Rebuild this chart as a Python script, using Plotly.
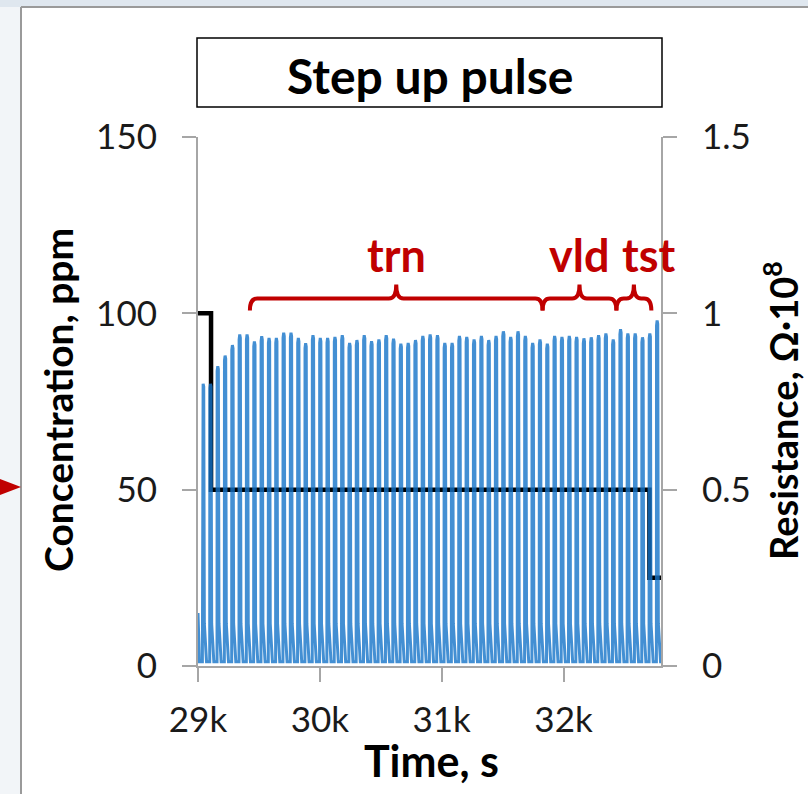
import plotly.graph_objects as go

# ---------------- data ----------------
time_ticks = [29000, 30000, 31000, 32000]
time_tick_text = ["29k", "30k", "31k", "32k"]

# concentration step profile (ppm) : change times and levels
conc_time = [29000, 29107, 32705, 32800]
conc_ppm = [100, 50, 25, 25]

# resistance pulses (Ohm*1e8): first pulse centre, spacing, peak heights
pulse_first = 29042
pulse_spacing = 60.1
pulse_peaks = [
    0.80, 0.80, 0.85, 0.88, 0.91, 0.94, 0.94, 0.92, 0.935, 0.93,
    0.93, 0.945, 0.945, 0.93, 0.915, 0.938, 0.930, 0.930, 0.933, 0.938,
    0.916, 0.924, 0.938, 0.921, 0.926, 0.938, 0.928, 0.914, 0.916, 0.924,
    0.936, 0.940, 0.938, 0.916, 0.916, 0.936, 0.933, 0.926, 0.936, 0.924,
    0.936, 0.949, 0.933, 0.949, 0.936, 0.916, 0.926, 0.914, 0.936, 0.933,
    0.936, 0.933, 0.929, 0.932, 0.938, 0.943, 0.926, 0.955, 0.943, 0.943,
    0.932, 0.943, 0.98, 1.04,
]
start_tail = 0.15
baseline = 0.012

# bracket annotations (time ranges, seconds)
brace_names = ["trn", "vld", "tst"]
brace_start = [29426, 31828, 32434]
brace_end = [31828, 32434, 32721]
brace_label_x = [30631, 32131, 32700]

# ---------------- build pulse trace ----------------
rx, ry = [29000, 29012], [start_tail, baseline]
for i, p in enumerate(pulse_peaks):
    c = pulse_first + i * pulse_spacing
    rx += [c - 6, c - 5, c, c + 5, c + 6, c + 10, c + 28]
    ry += [baseline, p * 0.985, p, p * 0.99, 0.30, 0.12, baseline]

BLUE = "rgba(20,115,200,0.8)"
RED = "#C00000"
FONT = "Lato"

fig = go.Figure()
fig.add_trace(go.Scatter(x=conc_time, y=conc_ppm, mode="lines", line_shape="hv",
                         line=dict(color="black", width=4.5), yaxis="y", showlegend=False,
                         hoverinfo="skip"))
fig.add_trace(go.Scatter(x=rx, y=ry, mode="lines", line=dict(color=BLUE, width=3),
                         yaxis="y2", showlegend=False, hoverinfo="skip"))

W, H = 808, 794
L, R, T, B = 198, 147, 137, 128
PW, PH = W - L - R, H - T - B


def px(xp):
    return (xp - L) / PW


def py(yp):
    return (H - B - yp) / PH


shapes = []
# slide background pieces
shapes.append(dict(type="rect", xref="paper", yref="paper", x0=px(0), x1=px(W), y0=py(7), y1=py(0),
                   fillcolor="#dfe7ef", line=dict(width=0), layer="below"))
shapes.append(dict(type="rect", xref="paper", yref="paper", x0=px(0), x1=px(21), y0=py(H), y1=py(7),
                   fillcolor="#f2f5f8", line=dict(width=0), layer="below"))
shapes.append(dict(type="line", xref="paper", yref="paper", x0=px(21), x1=px(W), y0=py(7), y1=py(7),
                   line=dict(color="#9a9a9a", width=2)))
shapes.append(dict(type="line", xref="paper", yref="paper", x0=px(21), x1=px(21), y0=py(7), y1=py(H),
                   line=dict(color="#9a9a9a", width=2)))
shapes.append(dict(type="path", xref="paper", yref="paper",
                   path=f"M {px(0)},{py(479)} L {px(21)},{py(487)} L {px(0)},{py(495)} Z",
                   fillcolor=RED, line=dict(width=0)))
# title box
shapes.append(dict(type="rect", xref="paper", yref="paper", x0=px(197), x1=px(662), y0=py(107), y1=py(38),
                   line=dict(color="black", width=1.5), fillcolor="white"))

# braces
yb, yl, yt = 1.008, 1.042, 1.082
r = 60
for x0, x1 in zip(brace_start, brace_end):
    xm = (x0 + x1) / 2
    path = (f"M {x0},{yb} Q {x0},{yl} {x0 + r},{yl} L {xm - r},{yl} Q {xm},{yl} {xm},{yt} "
            f"Q {xm},{yl} {xm + r},{yl} L {x1 - r},{yl} Q {x1},{yl} {x1},{yb}")
    shapes.append(dict(type="path", xref="x", yref="y2", path=path, line=dict(color=RED, width=4)))

annotations = []
for name, xl in zip(brace_names, brace_label_x):
    annotations.append(dict(x=xl, y=1.165, xref="x", yref="y2", text=f"<b>{name}</b>", showarrow=False,
                            font=dict(family=FONT, size=45, color=RED), xanchor="center", yanchor="middle"))
annotations.append(dict(x=px(430), y=py(75), xref="paper", yref="paper", text="<b>Step up pulse</b>",
                        showarrow=False, font=dict(family=FONT, size=48, color="black"),
                        xanchor="center", yanchor="middle"))
annotations.append(dict(x=px(58), y=py(400), xref="paper", yref="paper", text="<b>Concentration, ppm</b>",
                        showarrow=False, textangle=-90, font=dict(family=FONT, size=39, color="black"),
                        xanchor="center", yanchor="middle"))
annotations.append(dict(x=px(781), y=py(411), xref="paper", yref="paper",
                        text="<b>Resistance, Ω·10<sup>8</sup></b>",
                        showarrow=False, textangle=-90, font=dict(family=FONT, size=38, color="black"),
                        xanchor="center", yanchor="middle"))
annotations.append(dict(x=px(431), y=py(760), xref="paper", yref="paper", text="<b>Time, s</b>",
                        showarrow=False, font=dict(family=FONT, size=43, color="black"),
                        xanchor="center", yanchor="middle"))

axis_line = dict(showline=True, linecolor="#a6a6a6", linewidth=2, ticks="outside", ticklen=14,
                 tickcolor="#a6a6a6", tickwidth=2, showgrid=False, zeroline=False,
                 tickfont=dict(family=FONT, size=35, color="#1a1a1a"))

fig.update_layout(
    width=W, height=H, autosize=False,
    margin=dict(l=L, r=R, t=T, b=B, pad=0),
    paper_bgcolor="white", plot_bgcolor="white",
    xaxis=dict(range=[29000, 32800], tickvals=time_ticks, ticktext=time_tick_text,
               ticklabelstandoff=8, **axis_line),
    yaxis=dict(range=[0, 150], tickvals=[0, 50, 100, 150], ticklabelstandoff=18, **axis_line),
    yaxis2=dict(range=[0, 1.5], tickvals=[0, 0.5, 1, 1.5], overlaying="y", side="right",
                ticklabelstandoff=18, **axis_line),
    shapes=shapes, annotations=annotations,
)

fig.write_html("out.html")
